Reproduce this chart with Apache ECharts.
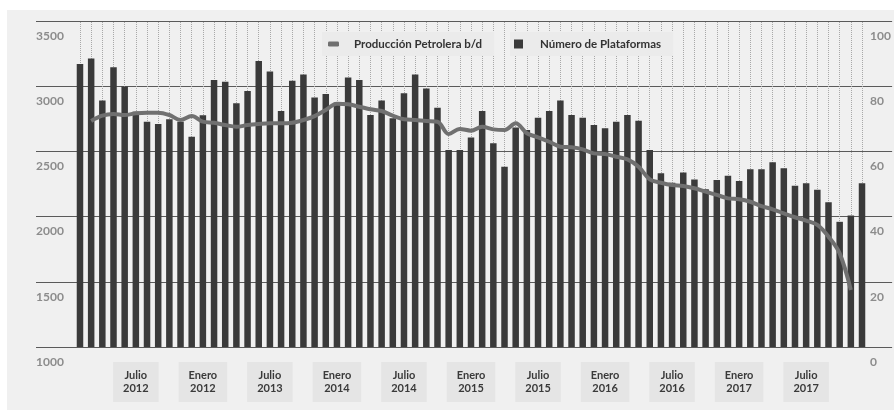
<!DOCTYPE html>
<html>
<head>
<meta charset="utf-8">
<script src="https://cdn.jsdelivr.net/npm/echarts@6/dist/echarts.min.js"></script>
<style>
body{margin:0;background:#fff;}
#chart{position:absolute;left:7px;top:10px;width:887px;height:400px;background:#f0f0f0;}
</style>
</head>
<body>
<div id="chart"></div>
<script>
// meses feb 2012 - dic 2017
var mesesCat = [];
for (var y = 2012; y <= 2017; y++) {
	for (var m = 1; m <= 12; m++) {
		if (y == 2012 && m < 2) continue;
		mesesCat.push(y + '-' + (m < 10 ? '0' + m : m));
	}
}
var etiquetasCat = ['2012-07','2013-01','2013-07','2014-01','2014-07','2015-01','2015-07','2016-01','2016-07','2017-01','2017-07'];
var etiquetasTxt = ['Julio\n2012','Enero\n2012','Julio\n2013','Enero\n2014','Julio\n2014','Enero\n2015','Julio\n2015','Enero\n2016','Julio\n2016','Enero\n2017','Julio\n2017'];

var plataformas = [86.8,88.5,75.6,85.8,79.9,72.2,69.1,68.4,69.9,69.1,
	64.5,71.1,81.9,81.4,74.8,78.5,87.7,84.5,72.4,81.7,
	83.6,76.5,77.6,75.0,82.7,81.9,71.2,75.6,70.2,77.8,
	83.6,79.3,73.4,60.4,60.4,64.3,72.4,62.5,55.3,67.3,
	66.6,70.3,72.4,75.6,71.2,70.3,68.1,67.1,69.1,71.2,
	69.4,60.4,53.3,50.4,53.5,51.4,48.4,51.2,52.5,50.9,
	54.5,54.5,56.7,54.8,49.5,50.2,48.2,44.4,38.4,40.3,
	50.2]; //Número de Plataformas
var produccion = [null,2733,2774,2787,2779,2792,2797,2797,2779,2741,
	2771,2728,2720,2702,2689,2702,2710,2715,2715,2720,
	2741,2771,2818,2866,2861,2843,2823,2810,2774,2746,
	2741,2733,2728,2634,2672,2659,2689,2669,2664,2715,
	2639,2608,2574,2536,2531,2516,2485,2480,2459,2439,
	2383,2286,2260,2242,2235,2217,2191,2166,2140,2133,
	2114,2081,2056,2025,1995,1969,1936,1846,1718,1437,
	null]; //Producción Petrolera b/d

var fuente = 'Lato';
var esEtiqueta = function (i) { return etiquetasCat.indexOf(mesesCat[i]) >= 0; };
var sinComa = function (v) { return String(v); };

var chart = echarts.init(document.getElementById('chart'));
chart.setOption({
	animation: false,
	grid: [
		{ left: 29, right: 1, top: 11, bottom: 63 }, //rejilla horizontal ancha
		{ left: 67.4, right: 26.4, top: 11, bottom: 63 } //barras
	],
	legend: [
		{ data: [{ name: 'Producción Petrolera b/d', icon: 'roundRect' }], left: 315, top: 22, backgroundColor: '#ebebeb', padding: [6, 12, 6, 6], itemWidth: 11, itemHeight: 5,
			textStyle: { fontFamily: fuente, fontWeight: 'bold', fontSize: 11.5, color: '#333', padding: [0, 0, 0, 10] } },
		{ data: [{ name: 'Número de Plataformas', icon: 'rect' }], left: 503, top: 22, backgroundColor: '#ebebeb', padding: [6, 12, 6, 4], itemWidth: 9, itemHeight: 9,
			textStyle: { fontFamily: fuente, fontWeight: 'bold', fontSize: 11.5, color: '#333', padding: [0, 0, 0, 12] } }
	],
	xAxis: [
		{ type: 'value', gridIndex: 0, show: false },
		{ type: 'category', gridIndex: 1, data: mesesCat, axisLine: { show: false },
			axisTick: { alignWithLabel: true, interval: 0, length: 8, lineStyle: { type: 'dotted', color: '#999' } },
			axisLabel: { interval: function (i) { return esEtiqueta(i); },
				formatter: function (v) { return etiquetasTxt[etiquetasCat.indexOf(v)]; },
				margin: 15, fontFamily: fuente, fontWeight: 'bold', fontSize: 11, lineHeight: 13, color: '#3a3a3a',
				backgroundColor: '#e5e5e5', padding: [7, 10] } },
		{ type: 'category', gridIndex: 1, data: mesesCat, axisLine: { show: false }, axisLabel: { show: false },
			axisTick: { alignWithLabel: true, interval: function (i) { return esEtiqueta(i); }, length: 15, lineStyle: { type: 'dotted', color: '#999' } } }
	],
	yAxis: [
		{ type: 'value', gridIndex: 0, min: 1000, max: 3500, interval: 500, axisLine: { show: false }, axisTick: { show: false },
			splitLine: { lineStyle: { color: '#5a5a5a', width: 1 } },
			axisLabel: { inside: true, margin: 0, align: 'left', verticalAlign: 'top', padding: [9, 0, 0, 0], formatter: sinComa, fontFamily: fuente, fontWeight: 'bold', fontSize: 12, color: '#8c8c8c' } },
		{ type: 'value', gridIndex: 0, position: 'right', min: 0, max: 100, interval: 20, axisLine: { show: false }, axisTick: { show: false }, splitLine: { show: false },
			axisLabel: { inside: true, margin: 22, align: 'left', verticalAlign: 'top', padding: [9, 0, 0, 0], formatter: sinComa, fontFamily: fuente, fontWeight: 'bold', fontSize: 12, color: '#8c8c8c' } },
		{ type: 'value', gridIndex: 1, min: 1000, max: 3500, show: false },
		{ type: 'value', gridIndex: 1, position: 'right', min: 0, max: 100, show: false }
	],
	series: [
		{ name: 'Número de Plataformas', type: 'bar', xAxisIndex: 1, yAxisIndex: 3, data: plataformas, barWidth: 6.5,
			itemStyle: { color: '#3a3a3a' },
			markLine: { silent: true, z: 1, symbol: ['none', 'none'], label: { show: false },
				lineStyle: { type: 'dotted', color: '#a8a8a8', width: 1 },
				data: mesesCat.map(function (c) { return { xAxis: c }; }) } },
		{ name: 'Producción Petrolera b/d', type: 'line', xAxisIndex: 1, yAxisIndex: 2, data: produccion, smooth: 0.35,
			showSymbol: false, connectNulls: false, z: 3,
			lineStyle: { color: '#707070', width: 4 }, itemStyle: { color: '#707070' } }
	]
});
</script>
</body>
</html>
